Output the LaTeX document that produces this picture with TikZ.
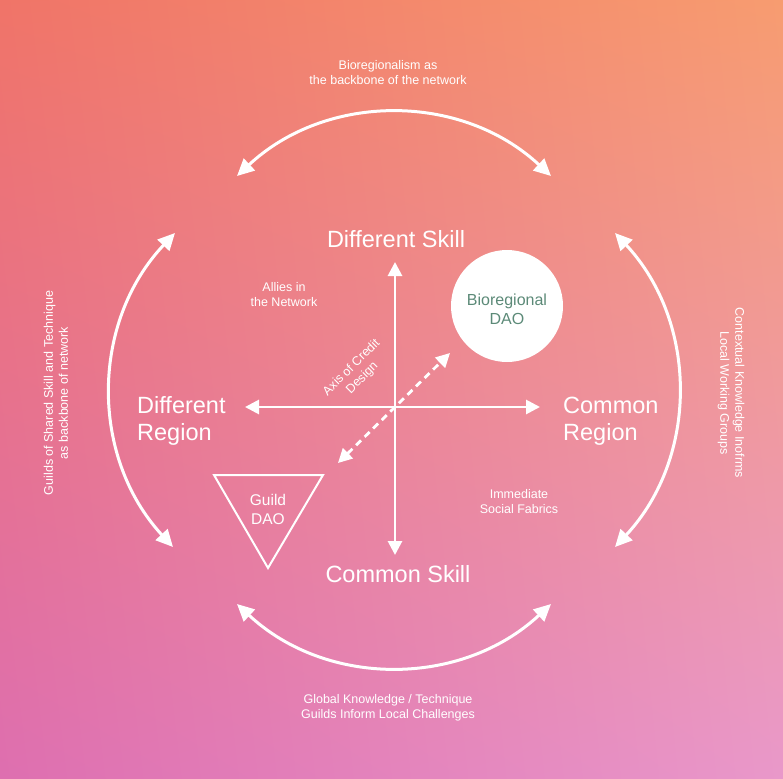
\documentclass[tikz,border=0pt]{standalone}
\usepackage{fontspec}
\setmainfont{Liberation Sans}
\usetikzlibrary{arrows.meta,shadings}
\definecolor{bgTL}{RGB}{240,116,104}
\definecolor{bgTR}{RGB}{247,156,112}
\definecolor{bgBL}{RGB}{222,111,176}
\definecolor{bgBR}{RGB}{233,152,202}
\definecolor{daotext}{RGB}{92,138,120}
\begin{document}
\begin{tikzpicture}[x=1pt,y=-1pt,
  wline/.style={draw=white, line width=3pt},
  arcarrow/.style={wline, {Triangle[length=17pt,width=16pt]}-{Triangle[length=17pt,width=16pt]}},
  axisarrow/.style={wline, line width=2.8pt, {Triangle[length=14pt,width=14pt]}-{Triangle[length=14pt,width=14pt]}},
  dasharrow/.style={axisarrow, dash pattern=on 7pt off 5pt},
  biglabel/.style={text=white, font=\fontsize{23.5}{27}\selectfont, align=left, inner sep=0pt},
  smalllabel/.style={text=white, font=\fontsize{12.5}{15}\selectfont, align=center, inner sep=0pt},
  daolabel/.style={font=\fontsize{15.5}{19}\selectfont, align=center, inner sep=0pt}
]
\shade[upper left=bgTL, upper right=bgTR, lower left=bgBL, lower right=bgBR] (0,0) rectangle (783,778);
\useasboundingbox (0,0) rectangle (783,778);

% outer arc end points
\coordinate (tl) at (237,176);
\coordinate (tr) at (551,176);
\coordinate (bl) at (237,604);
\coordinate (br) at (551,604);
\coordinate (lt) at (175,233);
\coordinate (lb) at (173,547);
\coordinate (rt) at (615,233);
\coordinate (rb) at (615,547);

\draw[arcarrow] (tl) to[bend left=43] (tr);
\draw[arcarrow] (bl) to[bend right=43] (br);
\draw[arcarrow] (lt) to[bend right=43] (lb);
\draw[arcarrow] (rt) to[bend left=43] (rb);

% axes
\coordinate (axtop) at (395,262);
\coordinate (axbot) at (395,555);
\coordinate (axleft) at (245,407);
\coordinate (axright) at (540,407);
\coordinate (dhigh) at (450,353);
\coordinate (dlow) at (338,463);
\draw[axisarrow] (axtop) -- (axbot);
\draw[axisarrow] (axleft) -- (axright);
\draw[dasharrow] (dlow) -- (dhigh);

% axis labels
\node[biglabel] (ds) at (396,239) {Different Skill};
\node[biglabel] (cs) at (398,574) {Common Skill};
\node[biglabel, anchor=west] (dr) at (137,421) {Different\\Region};
\node[biglabel, anchor=west] (cr) at (563,421) {Common\\Region};

% small labels
\node[smalllabel] (top) at (388,73) {Bioregionalism as\\the backbone of the network};
\node[smalllabel] (bot) at (388,708) {Global Knowledge / Technique\\Guilds Inform Local Challenges};
\node[smalllabel, rotate=90] (left) at (56,393) {Guilds of Shared Skill and Technique\\as backbone of network};
\node[smalllabel, rotate=-90] (right) at (731,393) {Contextual Knowledge Inofrms\\Local Working Groups};
\node[smalllabel] (allies) at (284,295) {Allies in\\the Network};
\node[smalllabel] (imm) at (519,502) {Immediate\\Social Fabrics};
\node[smalllabel, rotate=45] (axis) at (357,373) {Axis of Credit\\Design};

% Bioregional DAO
\node[circle, fill=white, minimum size=112pt, text=daotext, daolabel, font=\fontsize{16}{19}\selectfont] (bio) at (507,306) {};
\node[daolabel, text=daotext, font=\fontsize{16}{19}\selectfont] (biotext) at (507,309) {Bioregional\\DAO};

% Guild DAO
\coordinate (g1) at (214,475);
\coordinate (g2) at (323,475);
\coordinate (g3) at (268,568);
\draw[draw=white, line width=2pt, line join=miter] (g1) -- (g2) -- (g3) -- cycle;
\node[daolabel, text=white] (guild) at (268,509) {Guild\\DAO};
\end{tikzpicture}
\end{document}
